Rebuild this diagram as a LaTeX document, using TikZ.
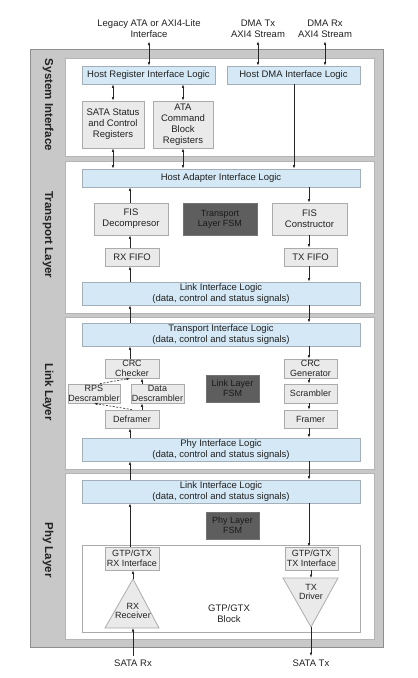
\documentclass[tikz,border=0pt]{standalone}
\usepackage{fontspec}
\setmainfont{Liberation Sans}
\usetikzlibrary{arrows.meta}
\definecolor{outerg}{HTML}{C8C8C8}
\definecolor{outerb}{HTML}{8E8E8E}
\definecolor{panelb}{HTML}{B4B4B4}
\definecolor{lblue}{HTML}{D4E8F5}
\definecolor{lblueb}{HTML}{A4AEB8}
\definecolor{lgray}{HTML}{EAEAEA}
\definecolor{lgrayb}{HTML}{ABABAB}
\definecolor{dfsm}{HTML}{5E5E5E}
\definecolor{txt}{HTML}{222222}
\begin{document}
\begin{tikzpicture}[x=1pt,y=-1pt,
 font=\fontsize{9.5}{11}\selectfont, text=txt,
 bluebox/.style={draw=lblueb, fill=lblue, line width=0.8pt, align=center, inner sep=0pt},
 graybox/.style={draw=lgrayb, fill=lgray, line width=0.8pt, align=center, inner sep=0pt},
 fsmbox/.style={draw=black!55, fill=dfsm, line width=0.8pt, align=center, inner sep=0pt, text=black!90, font=\fontsize{9}{10}\selectfont},
 small/.style={font=\fontsize{9}{9.7}\selectfont},
 panel/.style={draw=panelb, fill=white, line width=0.8pt},
 layer/.style={rotate=-90, font=\fontsize{11.5}{13}\selectfont\bfseries},
 arr/.style={draw=black!85, line width=0.6pt, -{Latex[length=3.5pt,width=2.6pt]}},
 darr/.style={draw=black!85, line width=0.6pt, {Latex[length=3.5pt,width=2.6pt]}-{Latex[length=3.5pt,width=2.6pt]}},
 dasharr/.style={arr, dash pattern=on 2pt off 1.5pt}
]
\useasboundingbox (0,0) rectangle (418,678);
\fill[white] (0,0) rectangle (418,678);
% outer frame and panels
\draw[fill=outerg, draw=outerb, line width=1pt] (30,49) rectangle (383,647);
\draw[panel] (65,58) rectangle (374,156);
\draw[panel] (65,161) rectangle (374,313);
\draw[panel] (65,317) rectangle (374,469);
\draw[panel] (65,473) rectangle (374,639);
% layer labels
\node[layer] (lsys) at (48,105) {System Interface};
\node[layer] (ltr) at (48,235) {Transport Layer};
\node[layer] (llk) at (48,392) {Link Layer};
\node[layer] (lph) at (48,550) {Phy Layer};
% column coordinates
\coordinate (rx) at (130,0);
\coordinate (tx) at (309,0);
\coordinate (dmax) at (294,0);
\coordinate (dx) at (142,0);
\coordinate (dd1) at (100,0);
% top labels
\node[align=center] (lbl1) at (149,29) {Legacy ATA or AXI4-Lite\\Interface};
\node[align=center] (lbl2) at (258,29) {DMA Tx\\AXI4 Stream};
\node[align=center] (lbl3) at (325,29) {DMA Rx\\AXI4 Stream};
% system interface
\node[bluebox, minimum width=133pt, minimum height=18pt] (hril) at (148.5,75) {Host Register Interface Logic};
\node[bluebox, minimum width=133pt, minimum height=18pt] (hdma) at (293.5,75) {Host DMA Interface Logic};
\node[graybox, minimum width=62pt, minimum height=47pt] (sata) at (113,124.5) {SATA Status\\and Control\\Registers};
\node[graybox, minimum width=60pt, minimum height=47pt] (ata) at (183,124.5) {ATA\\Command\\Block\\Registers};
% transport layer
\node[bluebox, minimum width=278pt, minimum height=18pt] (hail) at (221,178) {Host Adapter Interface Logic};
\node[graybox, minimum width=74pt, minimum height=32pt] (fisd) at (131,219) {FIS\\Decompresor};
\node[fsmbox, minimum width=74pt, minimum height=32pt] (tfsm) at (220,219) {Transport\\Layer FSM};
\node[graybox, minimum width=75pt, minimum height=32pt] (fisc) at (309.5,219) {FIS\\Constructor};
\node[graybox, minimum width=54pt, minimum height=18pt] (rxf) at (132,257) {RX FIFO};
\node[graybox, minimum width=53pt, minimum height=18pt] (txf) at (310.5,257) {TX FIFO};
\node[bluebox, minimum width=278pt, minimum height=23pt] (lil1) at (221,293.5) {Link Interface Logic\\(data, control and status signals)};
% link layer
\node[bluebox, minimum width=278pt, minimum height=23pt] (til) at (221,334.5) {Transport Interface Logic\\(data, control and status signals)};
\node[graybox, small, minimum width=54pt, minimum height=19pt] (crcc) at (132,368.5) {CRC\\Checker};
\node[graybox, small, minimum width=53pt, minimum height=19pt] (crcg) at (310.5,368.5) {CRC\\Generator};
\node[graybox, small, minimum width=52pt, minimum height=19pt] (rps) at (94,393.5) {RPS\\Descrambler};
\node[graybox, small, minimum width=53pt, minimum height=19pt] (dd) at (157.5,393.5) {Data\\Descrambler};
\node[graybox, small, minimum width=53pt, minimum height=19pt] (scr) at (310.5,393.5) {Scrambler};
\node[graybox, small, minimum width=54pt, minimum height=18pt] (defr) at (132,419) {Deframer};
\node[graybox, small, minimum width=53pt, minimum height=18pt] (fram) at (310.5,419) {Framer};
\node[fsmbox, minimum width=53pt, minimum height=27pt] (lfsm) at (232.5,388.5) {Link Layer\\FSM};
\node[bluebox, minimum width=278pt, minimum height=23pt] (pil) at (221,449.5) {Phy Interface Logic\\(data, control and status signals)};
% phy layer
\node[bluebox, minimum width=278pt, minimum height=23pt] (lil2) at (221,491.5) {Link Interface Logic\\(data, control and status signals)};
\node[fsmbox, minimum width=53pt, minimum height=27pt] (pfsm) at (232.5,525.5) {Phy Layer\\FSM};
\node[draw=lgrayb, fill=white, line width=0.8pt, minimum width=278pt, minimum height=87pt, inner sep=0pt] (gtpblk) at (221,588.5) {};
\node[align=center] (gtptxt) at (229,614) {GTP/GTX\\Block};
\node[graybox, small, minimum width=54pt, minimum height=23pt] (rxi) at (132,558.5) {GTP/GTX\\RX Interface};
\node[graybox, small, minimum width=53pt, minimum height=23pt] (txi) at (311.5,558.5) {GTP/GTX\\TX Interface};
\coordinate (rxapex) at (133,579);
\coordinate (rxbase) at (133,628);
\coordinate (txtop) at (311,578);
\coordinate (txapex) at (311,627);
\draw[draw=lgrayb, fill=lgray, line width=0.8pt] (105,628) -- (rxapex) -- (159,628) -- cycle;
\draw[draw=lgrayb, fill=lgray, line width=0.8pt] (283,578) -- (338,578) -- (txapex) -- cycle;
\node[small, align=center] (rxrtxt) at (133,611) {RX\\Receiver};
\node[small, align=center] (txdtxt) at (311,592) {TX\\Driver};
\node (satarx) at (133,663) {SATA Rx};
\node (satatx) at (311,663) {SATA Tx};
% arrows: system interface
\draw[darr] (lbl1.south) -- (lbl1.south |- hril.north);
\draw[darr] (lbl2.south) -- (lbl2.south |- hdma.north);
\draw[darr] (lbl3.south) -- (lbl3.south |- hdma.north);
\draw[darr] (hril.south -| sata.north) -- (sata.north);
\draw[darr] (hril.south -| ata.north) -- (ata.north);
\draw[darr] (sata.south) -- (sata.south |- hail.north);
\draw[darr] (ata.south) -- (ata.south |- hail.north);
\draw[arr] (hdma.south -| dmax) -- (hail.north -| dmax);
% transport
\draw[arr] (lil1.north -| rx) -- (rxf.south -| rx);
\draw[arr] (rxf.north -| rx) -- (fisd.south -| rx);
\draw[arr] (fisd.north -| rx) -- (hail.south -| rx);
\draw[arr] (hail.south -| tx) -- (fisc.north -| tx);
\draw[arr] (fisc.south -| tx) -- (txf.north -| tx);
\draw[arr] (txf.south -| tx) -- (lil1.north -| tx);
\draw[arr] (til.north -| rx) -- (lil1.south -| rx);
\draw[arr] (lil1.south -| tx) -- (til.north -| tx);
% link
\draw[arr] (pil.north -| rx) -- (defr.south -| rx);
\draw[arr] (defr.north -| dx) -- (dd.south -| dx);
\draw[arr] (dd.north -| dx) -- (crcc.south -| dx);
\draw[arr] (crcc.north -| rx) -- (til.south -| rx);
\draw[dasharr] (defr.north) -- (rps.south);
\draw[dasharr] (rps.north -| dd1) -- (crcc.south -| rx);
\draw[arr] (til.south -| tx) -- (crcg.north -| tx);
\draw[arr] (crcg.south -| tx) -- (scr.north -| tx);
\draw[arr] (scr.south -| tx) -- (fram.north -| tx);
\draw[arr] (fram.south -| tx) -- (pil.north -| tx);
\draw[arr] (lil2.north -| rx) -- (pil.south -| rx);
\draw[arr] (pil.south -| tx) -- (lil2.north -| tx);
% phy
\draw[arr] (rxi.north -| rx) -- (lil2.south -| rx);
\draw[arr] (rxapex) -- (rxi.south -| rxapex);
\draw[arr] (satarx.north) -- (rxbase);
\draw[arr] (lil2.south -| tx) -- (txi.north -| tx);
\draw[arr] (txi.south -| txtop) -- (txtop);
\draw[arr] (txapex) -- (satatx.north);
\end{tikzpicture}
\end{document}
